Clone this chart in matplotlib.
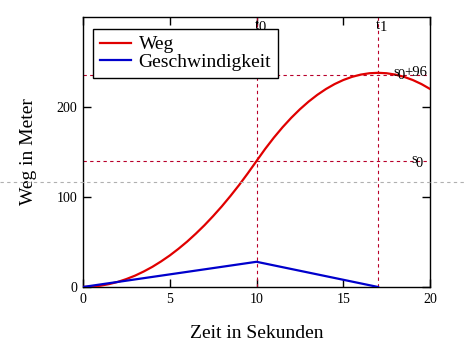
import matplotlib
matplotlib.use("Agg")
import matplotlib.pyplot as plt
from matplotlib.lines import Line2D

# values (half-second steps)
zeit = [i * 0.5 for i in range(41)]
weg = [0, 0.4, 1.4, 3.2, 5.6, 8.8, 12.6, 17.2, 22.4, 28.4,
       35.0, 42.4, 50.4, 59.2, 68.6, 78.8, 89.6, 101.2, 113.4, 126.4,
       140.0, 153.5, 166.0, 177.5, 188.0, 197.5, 206.0, 213.5, 220.0, 225.5,
       230.0, 233.5, 236.0, 237.5, 238.0, 237.5, 236.0, 233.5, 230.0, 225.5,
       220.0]
v_zeit = [0, 10, 17]
geschw = [0, 28, 0]

t_marker = [10, 17]
t_names = [("t", "0"), ("t", "1")]
s_marker = [140, 236]
s_names = [("s", "0", ""), ("s", "0", "+96")]

x_ticks = [0, 5, 10, 15, 20]
y_ticks = [0, 100, 200]

plt.rcParams["font.family"] = ["Liberation Serif", "DejaVu Serif"]

fig = plt.figure(figsize=(4.66, 3.59), dpi=100)
ax = fig.add_axes([0.178, 0.2006, 0.745, 0.752])

red = "#e00000"
blue = "#0000cc"
mark = "#b8002a"

ax.plot(zeit, weg, color=red, lw=1.6, label="Weg", zorder=3)
ax.plot(v_zeit, geschw, color=blue, lw=1.6, label="Geschwindigkeit", zorder=3)

fs = 10.5
for t, (base, sub) in zip(t_marker, t_names):
    ax.axvline(t, color=mark, lw=0.8, ls=(0, (3, 3)), zorder=2)
    b = ax.annotate(base, (t, 300), xytext=(-1.5, -1.5), textcoords="offset points",
                    ha="left", va="top", fontsize=fs, zorder=4, annotation_clip=False)
    ax.annotate(sub, xy=(1, 1), xycoords=b, xytext=(0, -1.5), textcoords="offset points",
                ha="left", va="top", fontsize=fs, zorder=4)
for s, (base, sub, rest) in zip(s_marker, s_names):
    ax.axhline(s, color=mark, lw=0.8, ls=(0, (3, 3)), zorder=2)
    if rest:
        r = ax.annotate(rest, (20, s), xytext=(-2, 1.5), textcoords="offset points",
                        ha="right", va="center", fontsize=fs, zorder=4)
        sb = ax.annotate(sub, xy=(0, 0.5), xycoords=r, xytext=(0.5, -2.5),
                         textcoords="offset points", ha="right", va="center",
                         fontsize=fs, zorder=4)
    else:
        sb = ax.annotate(sub, (20, s), xytext=(-5, -1.5), textcoords="offset points",
                         ha="right", va="center", fontsize=fs, zorder=4)
    ax.annotate(base, xy=(0, 0.5), xycoords=sb, xytext=(0.5, 2.5),
                textcoords="offset points", ha="right", va="center",
                fontsize=fs, zorder=4)

ax.set_xlim(0, 20)
ax.set_ylim(0, 300)
ax.set_xticks(x_ticks)
ax.set_yticks(y_ticks)
ax.tick_params(direction="in", length=6, width=1, labelsize=10, pad=4,
               top=True, right=True, colors="black")
for sp in ax.spines.values():
    sp.set_linewidth(1)

ax.set_xlabel("Zeit in Sekunden", fontsize=14, labelpad=14)
ax.set_ylabel("Weg in Meter", fontsize=14, labelpad=14)

leg = ax.legend(loc="upper left", bbox_to_anchor=(0.029, 0.956), fontsize=14,
                frameon=True, fancybox=False, edgecolor="black",
                borderpad=0.35, labelspacing=0.0, handlelength=1.6,
                handleheight=0.7, handletextpad=0.4, borderaxespad=0)
leg.get_frame().set_linewidth(1)
leg.get_frame().set_alpha(1)

# grey dashed guide across the whole figure
fig.add_artist(Line2D([0, 1], [1 - 182 / 359, 1 - 182 / 359], transform=fig.transFigure,
                      color="#b0b0b0", lw=0.8, ls=(0, (3, 3))))

fig.savefig("out.png", dpi=100)
